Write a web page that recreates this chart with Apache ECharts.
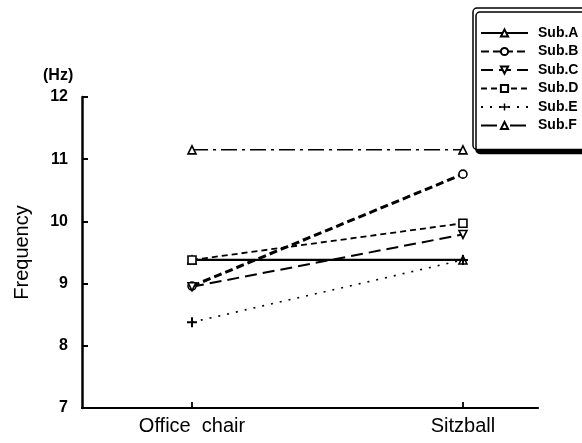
<!DOCTYPE html>
<html>
<head>
<meta charset="utf-8">
<script src="https://cdn.jsdelivr.net/npm/echarts@6/dist/echarts.min.js"></script>
<style>
  html, body { margin: 0; padding: 0; background: #fff; }
  #chart { width: 582px; height: 443px; }
</style>
</head>
<body>
<div id="chart"></div>
<script>
// Seat conditions on the x axis (positions 0 and 1)
const categories = ['Office  chair', 'Sitzball'];
const seatPos = [0, 1];

// Frequency (Hz) per subject for each seat
const subA = [9.38, 9.38];
const subB = [8.96, 10.76];
const subC = [8.95, 9.79];
const subD = [9.38, 9.97];
const subE = [8.38, 9.38];
const subF = [11.15, 11.15];

const yTicks = [7, 8, 9, 10, 11, 12];

const FONT = '"Liberation Sans", Arial, Helvetica, sans-serif';
const plusPath = 'path://M4,0 L6,0 L6,4 L10,4 L10,6 L6,6 L6,10 L4,10 L4,6 L0,6 L0,4 L4,4 Z';

function pairs(vals) {
  return vals.map((v, i) => [seatPos[i], v]);
}

function makeSeries(name, vals, symbol, lineStyle, extra) {
  return Object.assign({
    name: name,
    type: 'line',
    data: pairs(vals),
    symbol: symbol,
    symbolSize: 8,
    color: '#000',
    itemStyle: { color: '#fff', borderColor: '#000', borderWidth: 1.6 },
    lineStyle: Object.assign({ color: '#000' }, lineStyle),
    emphasis: { disabled: true },
    z: 3
  }, extra || {});
}

const series = [
  makeSeries('Sub.A', subA, 'triangle', { width: 2.2, type: 'solid' }),
  makeSeries('Sub.B', subB, 'circle', { width: 3, type: [8, 4] }),
  makeSeries('Sub.C', subC, 'triangle', { width: 2, type: [12, 6] }, { symbolRotate: 180 }),
  makeSeries('Sub.D', subD, 'rect', { width: 1.8, type: [6, 4] }),
  makeSeries('Sub.E', subE, plusPath, { width: 1.6, type: [2, 7] },
    { itemStyle: { color: '#000', borderWidth: 0 }, symbolSize: 10 }),
  makeSeries('Sub.F', subF, 'triangle', { width: 1.5, type: [16, 5, 3, 5] })
];

const chart = echarts.init(document.getElementById('chart'), null, { renderer: 'canvas' });
chart.setOption({
  animation: false,
  backgroundColor: '#fff',
  textStyle: { fontFamily: FONT, color: '#000' },
  title: [
    { text: '(Hz)', left: 38, top: 63,
      textStyle: { fontFamily: FONT, fontSize: 16, fontWeight: 'bold', color: '#000' } }
  ],
  grid: { left: 82, right: 44, top: 97, bottom: 35 },
  xAxis: {
    type: 'value',
    min: -0.406,
    max: 1.277,
    splitLine: { show: false },
    axisLine: { onZero: false, lineStyle: { color: '#000', width: 2.2 } },
    axisTick: { show: true, inside: true, length: 6, customValues: seatPos,
      lineStyle: { color: '#000', width: 1.8 } },
    axisLabel: { customValues: seatPos, margin: 8,
      formatter: v => categories[Math.round(v)] || '',
      fontFamily: FONT, fontSize: 20, color: '#000' }
  },
  yAxis: {
    type: 'value',
    min: yTicks[0],
    max: yTicks[yTicks.length - 1],
    interval: 1,
    name: 'Frequency',
    nameLocation: 'middle',
    nameGap: 50,
    nameTextStyle: { fontFamily: FONT, fontSize: 20, color: '#000' },
    splitLine: { show: false },
    axisLine: { onZero: false, lineStyle: { color: '#000', width: 2.5 } },
    axisTick: { show: true, inside: true, length: 6, lineStyle: { color: '#000', width: 2 } },
    axisLabel: { margin: 14, fontFamily: FONT, fontSize: 16, fontWeight: 'bold', color: '#000' }
  },
  legend: {
    orient: 'vertical',
    left: 473,
    top: 8,
    padding: [18, 30, 17, 7],
    itemWidth: 47,
    itemHeight: 9,
    itemGap: 4.5,
    backgroundColor: '#fff',
    borderColor: '#000',
    borderWidth: 1.5,
    borderRadius: 4,
    shadowColor: '#000',
    shadowBlur: 0,
    shadowOffsetX: 3,
    shadowOffsetY: 4,
    selectedMode: false,
    textStyle: { fontFamily: FONT, fontSize: 14, fontWeight: 'bold', color: '#000',
      padding: [0, 0, 0, 5] },
    data: series.map(s => s.name)
  },
  series: series
});
</script>
</body>
</html>
